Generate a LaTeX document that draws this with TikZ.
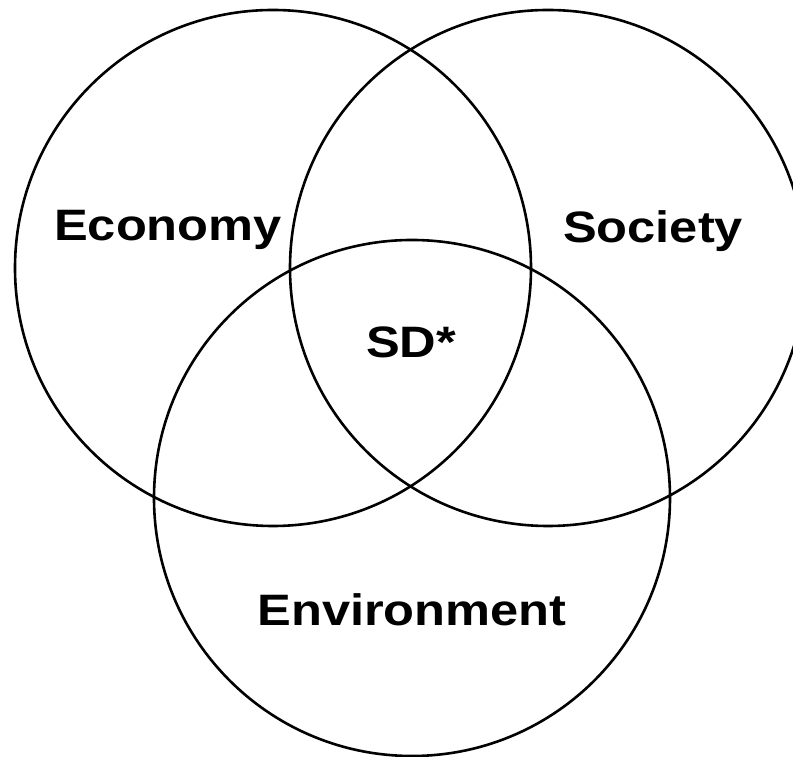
\documentclass[tikz,border=0pt]{standalone}
\usepackage{fontspec}
\setmainfont{Liberation Sans}
\begin{document}
\begin{tikzpicture}[x=1pt,y=1pt,
  ring/.style={draw=black,line width=2.6pt},
  lbl/.style={font=\fontsize{44}{44}\selectfont\bfseries,anchor=base,inner sep=0pt}]
\useasboundingbox (0,0) rectangle (793,757);
\clip (0,0) rectangle (793,757);
\node[ring,circle,minimum size=516pt,inner sep=0pt] (eco) at (273,489) {};
\node[ring,circle,minimum size=516pt,inner sep=0pt] (soc) at (548,489) {};
\node[ring,circle,minimum size=516pt,inner sep=0pt] (env) at (412,259) {};
\node[lbl] (teco) at (168,516) {\scalebox{1.15}[1]{Economy}};
\node[lbl] (tsoc) at (653,514) {\scalebox{1.15}[1]{Society}};
\node[lbl] (tsd) at (411,399) {\scalebox{1.15}[1]{SD*}};
\node[lbl] (tenv) at (412,131) {\scalebox{1.15}[1]{Environment}};
\end{tikzpicture}
\end{document}
